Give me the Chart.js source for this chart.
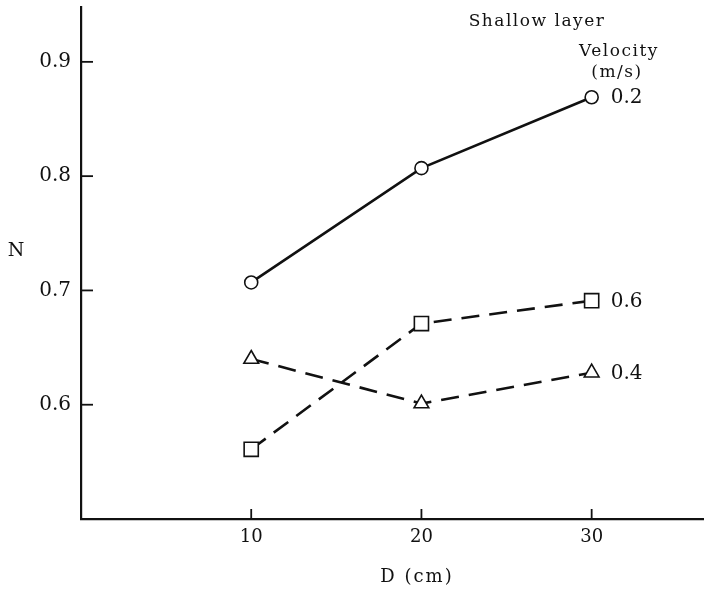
<!DOCTYPE html>
<html>
<head>
<meta charset="utf-8">
<script src="https://cdn.jsdelivr.net/npm/chart.js@4"></script>
<style>
  body { margin: 0; background: #fff; }
  #wrap { width: 704px; height: 590px; }
</style>
</head>
<body>
<div id="wrap"><canvas id="data-chart" width="704" height="590"></canvas></div>
<script>
// depths D (cm)
const depths = [10, 20, 30];
// N values per velocity (m/s)
const n02 = [0.707, 0.807, 0.869];
const n06 = [0.561, 0.671, 0.691];
const n04 = [0.640, 0.601, 0.628];
const seriesNames = ['0.2', '0.6', '0.4'];
const xTicks = [10, 20, 30];
const yTicks = [0.6, 0.7, 0.8, 0.9];

const FONT = '"DejaVu Serif", "Liberation Serif", serif';

function pts(vals) {
    return depths.map((d, i) => ({ x: d, y: vals[i] }));
}

// inward tick marks, series end labels and free text
const decor = {
    id: 'decor',
    afterDraw(chart) {
        const ctx = chart.ctx;
        const xs = chart.scales.x, ys = chart.scales.y;
        const area = chart.chartArea;
        ctx.save();
        ctx.strokeStyle = '#111';
        ctx.lineWidth = 1.8;
        yTicks.forEach(v => {
            const py = ys.getPixelForValue(v);
            ctx.beginPath();
            ctx.moveTo(area.left, py);
            ctx.lineTo(area.left + 12, py);
            ctx.stroke();
        });
        xTicks.forEach(v => {
            const px = xs.getPixelForValue(v);
            ctx.beginPath();
            ctx.moveTo(px, area.bottom);
            ctx.lineTo(px, area.bottom - 10);
            ctx.stroke();
        });

        ctx.fillStyle = '#111';
        ctx.font = '20px ' + FONT;
        ctx.textBaseline = 'middle';
        ctx.textAlign = 'left';
        chart.data.datasets.forEach(ds => {
            const last = ds.data[ds.data.length - 1];
            ctx.fillText(ds.label, xs.getPixelForValue(last.x) + 19, ys.getPixelForValue(last.y) + 1);
        });

        ctx.font = '17px ' + FONT;
        ctx.textAlign = 'center';
        ctx.letterSpacing = '1.5px';
        ctx.fillText('Shallow layer', 537, 22);
        ctx.fillText('Velocity', 619, 52);
        ctx.fillText('(m/s)', 617, 73);
        ctx.letterSpacing = '2px';
        ctx.font = '18px ' + FONT;
        ctx.fillText('D (cm)', 417, 577);
        ctx.letterSpacing = '0px';
        ctx.font = '19px ' + FONT;
        ctx.fillText('N', 16, 251);
        ctx.restore();
    }
};

const ctx = document.getElementById('data-chart').getContext('2d');
new Chart(ctx, {
    type: 'line',
    data: {
        datasets: [{
            label: seriesNames[0],
            data: pts(n02),
            borderColor: '#111',
            borderWidth: 2.6,
            pointStyle: 'circle',
            pointRadius: 6.5,
            pointBackgroundColor: '#fff',
            pointBorderColor: '#111',
            pointBorderWidth: 1.6
        }, {
            label: seriesNames[1],
            data: pts(n06),
            borderColor: '#111',
            borderWidth: 2.6,
            borderDash: [18, 10],
            pointStyle: 'rect',
            pointRadius: 10,
            pointBackgroundColor: '#fff',
            pointBorderColor: '#111',
            pointBorderWidth: 1.6
        }, {
            label: seriesNames[2],
            data: pts(n04),
            borderColor: '#111',
            borderWidth: 2.6,
            borderDash: [18, 10],
            pointStyle: 'triangle',
            pointRadius: 8.5,
            pointBackgroundColor: '#fff',
            pointBorderColor: '#111',
            pointBorderWidth: 1.6
        }]
    },
    options: {
        responsive: false,
        animation: false,
        layout: { autoPadding: false, padding: { top: 7, right: 0, left: 0, bottom: 0 } },
        plugins: { legend: { display: false }, tooltip: { enabled: false } },
        scales: {
            x: {
                type: 'linear',
                min: 0,
                max: 36.6,
                afterBuildTicks: s => { s.ticks = xTicks.map(v => ({ value: v })); },
                afterFit: s => { s.height = 71; s.paddingLeft = 0; s.paddingRight = 0; },
                grid: { display: false, drawTicks: false },
                border: { display: true, color: '#111', width: 2.2 },
                ticks: { color: '#111', padding: 8, font: { family: FONT, size: 18 } }
            },
            y: {
                min: 0.5,
                max: 0.948,
                afterBuildTicks: s => { s.ticks = yTicks.map(v => ({ value: v })); },
                afterFit: s => { s.width = 81; s.paddingTop = 0; s.paddingBottom = 0; },
                grid: { display: false, drawTicks: false },
                border: { display: true, color: '#111', width: 2.2 },
                ticks: { color: '#111', padding: 10, font: { family: FONT, size: 20 }, callback: v => v.toFixed(1) }
            }
        }
    },
    plugins: [decor]
});
</script>
</body>
</html>
